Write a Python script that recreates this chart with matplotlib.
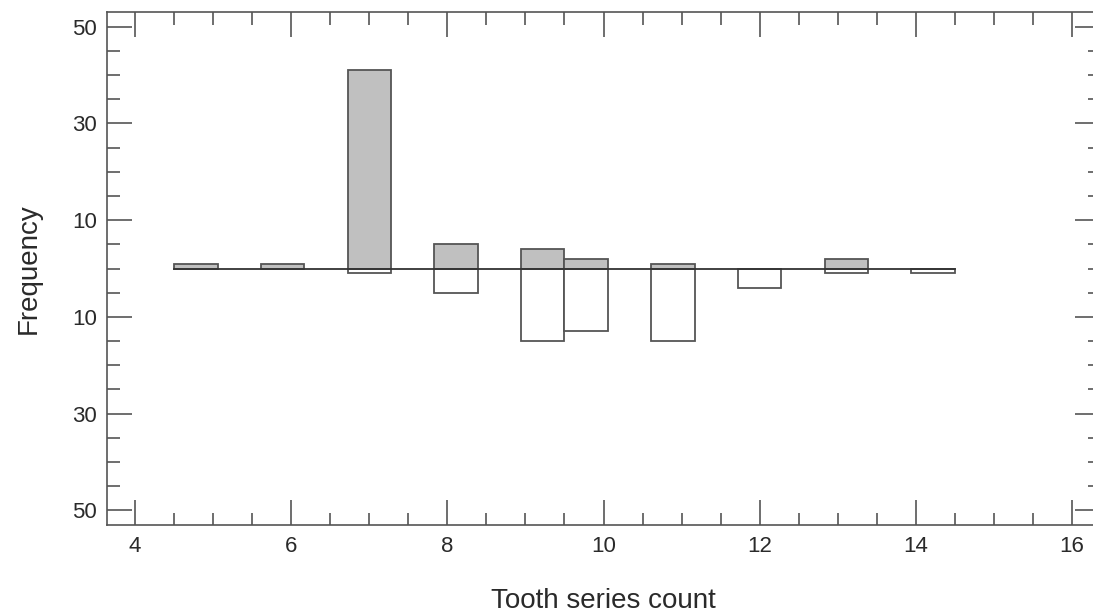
import numpy as np
import matplotlib
matplotlib.use("Agg")
import matplotlib.pyplot as plt
from matplotlib.ticker import MultipleLocator, FixedLocator, FuncFormatter

plt.rcParams['font.family'] = ['Liberation Sans', 'DejaVu Sans']

# histogram bins: 18 bins from 4.5 to 14.5
bin_lo = 4.5
bin_hi = 14.5
n_bins = 18
# counts per bin (upper = grey, lower = white)
upper_counts = [1, 0, 1, 0, 41, 0, 5, 0, 4, 2, 0, 1, 0, 0, 0, 2, 0, 0]
lower_counts = [0, 0, 0, 0, 1, 0, 5, 0, 15, 13, 0, 15, 0, 4, 0, 1, 0, 1]
y_major = [-50, -30, -10, 10, 30, 50]

edges = np.linspace(bin_lo, bin_hi, n_bins + 1)
width = edges[1] - edges[0]
edge_col = "#555555"
txt_col = "#2a2a2a"

fig = plt.figure(figsize=(10.93, 6.12), dpi=100)
ax = fig.add_axes([107 / 1093, 87 / 612, 993 / 1093, 513 / 612])

for i in range(n_bins):
    if upper_counts[i] > 0:
        ax.bar(edges[i], upper_counts[i], width=width, align="edge",
               color="#c0c0c0", edgecolor=edge_col, linewidth=1.3, zorder=2)
    if lower_counts[i] > 0:
        ax.bar(edges[i], -lower_counts[i], width=width, align="edge",
               color="white", edgecolor=edge_col, linewidth=1.3, zorder=2)

ax.plot([bin_lo, bin_hi], [0, 0], color="#333333", linewidth=1.3, zorder=3)

ax.set_xlim(3.64, 16.36)
ax.set_ylim(-53, 53)

ax.xaxis.set_major_locator(MultipleLocator(2))
ax.xaxis.set_minor_locator(MultipleLocator(0.5))
ax.yaxis.set_major_locator(FixedLocator(y_major))
ax.yaxis.set_minor_locator(MultipleLocator(5))
ax.yaxis.set_major_formatter(FuncFormatter(lambda v, p: "%d" % abs(v)))

ax.tick_params(which="both", direction="in", top=True, right=True,
               color=edge_col, labelcolor=txt_col, labelsize=16)
ax.tick_params(which="major", length=18, width=1.2)
ax.tick_params(which="minor", length=9, width=1.2)
ax.tick_params(axis="x", which="major", pad=8)
ax.tick_params(axis="y", which="major", pad=7)
for s in ax.spines.values():
    s.set_color(edge_col)
    s.set_linewidth(1.2)

ax.set_xlabel("Tooth series count", fontsize=20, color=txt_col, labelpad=22)
ax.set_ylabel("Frequency", fontsize=20, color=txt_col, labelpad=22)

fig.savefig("out.png", dpi=100)
